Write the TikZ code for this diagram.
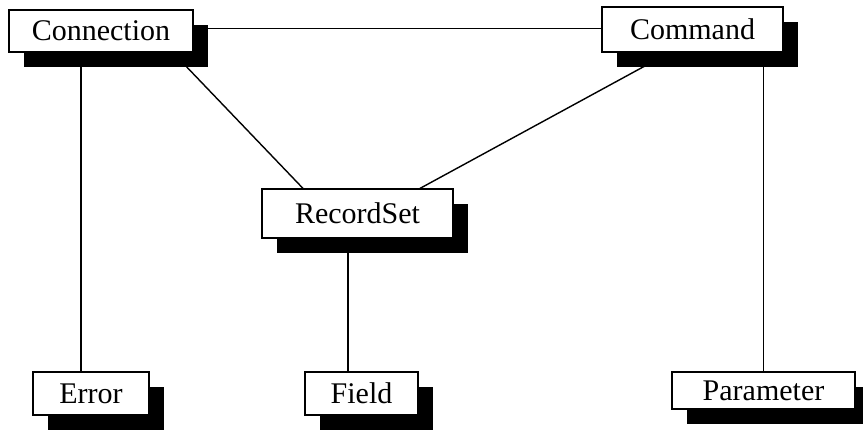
\documentclass[tikz,border=0pt]{standalone}
\usepackage{fontspec}
\setmainfont{Liberation Serif}
\usetikzlibrary{shadows}
\pgfdeclarelayer{background}
\pgfsetlayers{background,main}
\begin{document}
\begin{tikzpicture}[x=1pt,y=-1pt,
  cls/.style={draw=black, line width=1.2pt, fill=white, inner sep=0pt,
    font=\fontsize{30}{32}\selectfont, text height=19pt, text depth=-1pt,
    drop shadow={shadow xshift=15pt, shadow yshift=-15pt, fill=black, opacity=1}},
  link/.style={line width=1.4pt, black}]
\useasboundingbox (0,0) rectangle (863,429);
\node[cls, minimum width=184pt, minimum height=42pt] (Connection) at (101,31) {Connection};
\node[cls, minimum width=181pt, minimum height=45pt] (Command) at (692.5,29.5) {Command};
\node[cls, minimum width=191pt, minimum height=49pt] (RecordSet) at (357.5,213.5) {RecordSet};
\node[cls, minimum width=116pt, minimum height=43pt] (Error) at (91,393.5) {Error};
\node[cls, minimum width=113pt, minimum height=43pt] (Field) at (361.5,393.5) {Field};
\node[cls, minimum width=183pt, minimum height=37pt] (Parameter) at (763.5,390.5) {Parameter};
\begin{pgfonlayer}{background}
\draw[link] ([yshift=2.5pt]Connection.east) -- ([yshift=1pt]Command.west);
\draw[link] ([xshift=-10pt]Error.north) -- ([xshift=-10pt]Error.north |- Connection.south);
\draw[link] ([xshift=72pt]Connection.south) -- ([xshift=-54.5pt]RecordSet.north);
\draw[link] ([xshift=-23pt]Command.south) -- ([xshift=62.5pt]RecordSet.north);
\draw[link] (Parameter.north) -- (Parameter.north |- Command.south);
\draw[link] ([xshift=-13.5pt]Field.north) -- ([xshift=-13.5pt]Field.north |- RecordSet.south);
\end{pgfonlayer}
\end{tikzpicture}
\end{document}
